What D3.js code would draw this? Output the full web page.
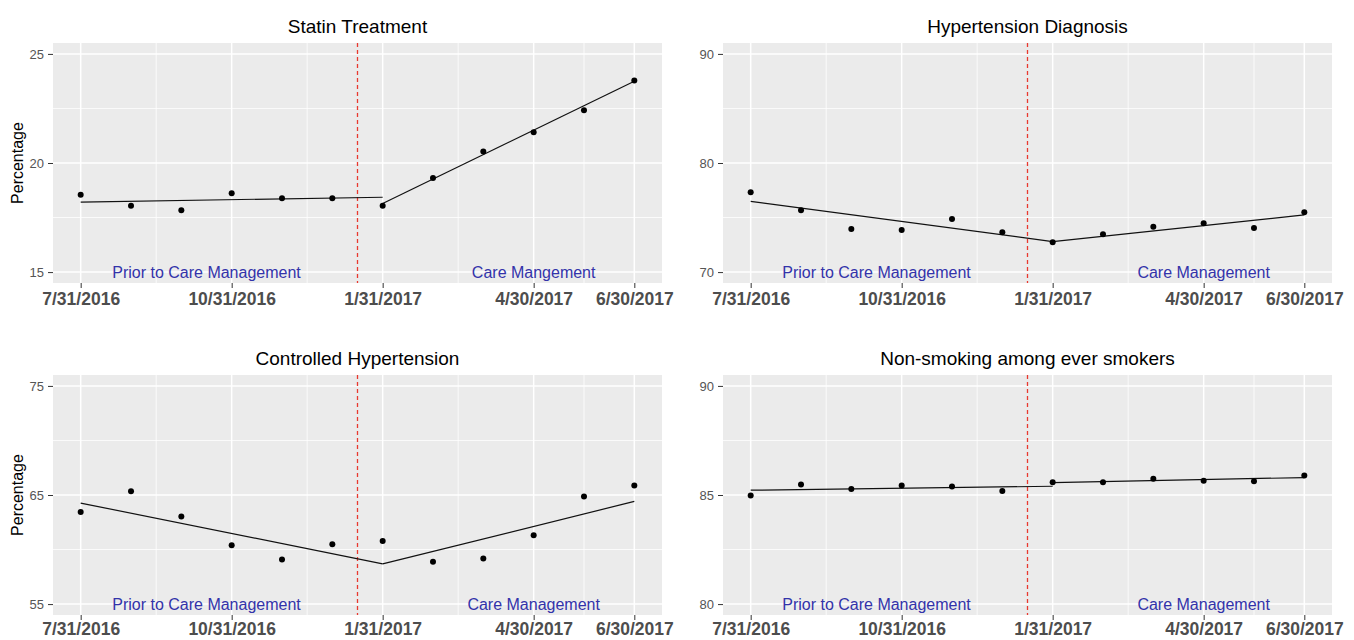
<!DOCTYPE html>
<html>
<head>
<meta charset="utf-8">
<script src="https://cdn.jsdelivr.net/npm/d3@7"></script>
<style>
  body { margin: 0; background: #fff; }
  svg { display: block; font-family: "Liberation Sans", Arial, sans-serif; }
</style>
</head>
<body>
<div id="viz"></div>
<script>
// month-end dates, one point per month
const monthEnds = ["7/31/2016", "8/31/2016", "9/30/2016", "10/31/2016", "11/30/2016", "12/31/2016",
  "1/31/2017", "2/28/2017", "3/31/2017", "4/30/2017", "5/31/2017", "6/30/2017"];
const tickIdx = [0, 3, 6, 9, 11];
const minorIdx = [1.5, 4.5, 7.5, 10];
const interventionIdx = 5.5;
const fitIdx = { pre: [0, 6], post: [6, 11] };

// Statin Treatment
const statin = [18.54, 18.04, 17.84, 18.61, 18.39, 18.39, 18.04, 19.31, 20.53, 21.41, 22.42, 23.78];
const statinPre = [18.21, 18.43];
const statinPost = [18.14, 23.75];
const statinTicks = [15, 20, 25];

// Hypertension Diagnosis
const hyperDx = [77.31, 75.66, 73.95, 73.86, 74.87, 73.65, 72.74, 73.47, 74.16, 74.47, 74.05, 75.48];
const hyperDxPre = [76.48, 72.80];
const hyperDxPost = [72.80, 75.24];
const hyperDxTicks = [70, 80, 90];

// Controlled Hypertension
const controlled = [63.44, 65.35, 63.04, 60.39, 59.08, 60.48, 60.79, 58.87, 59.17, 61.30, 64.86, 65.87];
const controlledPre = [64.26, 58.69];
const controlledPost = [58.69, 64.41];
const controlledTicks = [55, 65, 75];

// Non-smoking among ever smokers
const nonSmoking = [84.98, 85.48, 85.28, 85.43, 85.39, 85.18, 85.59, 85.59, 85.74, 85.65, 85.63, 85.89];
const nonSmokingPre = [85.22, 85.40];
const nonSmokingPost = [85.57, 85.80];
const nonSmokingTicks = [80, 85, 90];

const panels = [
  { title: "Statin Treatment", values: statin, pre: statinPre, post: statinPost, ticks: statinTicks,
    careLabel: "Care Mangement", ylab: true, col: 0, row: 0 },
  { title: "Hypertension Diagnosis", values: hyperDx, pre: hyperDxPre, post: hyperDxPost, ticks: hyperDxTicks,
    careLabel: "Care Management", ylab: false, col: 1, row: 0 },
  { title: "Controlled Hypertension", values: controlled, pre: controlledPre, post: controlledPost, ticks: controlledTicks,
    careLabel: "Care Management", ylab: true, col: 0, row: 1 },
  { title: "Non-smoking among ever smokers", values: nonSmoking, pre: nonSmokingPre, post: nonSmokingPost, ticks: nonSmokingTicks,
    careLabel: "Care Management", ylab: false, col: 1, row: 1 }
];

const width = 1354, height = 640;
const colX = [53, 723], panelW = 609;
const rowY = [43, 375], panelH = 240;
const labelGap = [10, 8]; // x tick label padding per row (bottom row sits tight on the edge)

const svg = d3.select("#viz").append("svg")
  .attr("width", width)
  .attr("height", height);
svg.append("rect").attr("width", width).attr("height", height).attr("fill", "#fff");

panels.forEach((p) => {
  const x0 = colX[p.col], y0 = rowY[p.row];
  const g = svg.append("g").attr("transform", `translate(${x0},${y0})`);

  const x = d3.scaleLinear().domain([-0.55, 11.55]).range([0, panelW]);
  const lo = d3.min(p.ticks), hi = d3.max(p.ticks), pad = (hi - lo) * 0.05;
  const y = d3.scaleLinear().domain([lo - pad, hi + pad]).range([panelH, 0]);
  const yMinor = d3.pairs(p.ticks).map((d) => (d[0] + d[1]) / 2);

  g.append("rect").attr("width", panelW).attr("height", panelH).attr("fill", "#ebebeb");

  // grid
  g.selectAll(".hminor").data(yMinor).join("line")
    .attr("x1", 0).attr("x2", panelW)
    .attr("y1", (d) => y(d)).attr("y2", (d) => y(d))
    .attr("stroke", "#fff").attr("stroke-width", 0.8);
  g.selectAll(".vminor").data(minorIdx).join("line")
    .attr("x1", (d) => x(d)).attr("x2", (d) => x(d))
    .attr("y1", 0).attr("y2", panelH)
    .attr("stroke", "#fff").attr("stroke-width", 0.8);
  g.selectAll(".hmajor").data(p.ticks).join("line")
    .attr("x1", 0).attr("x2", panelW)
    .attr("y1", (d) => y(d)).attr("y2", (d) => y(d))
    .attr("stroke", "#fff").attr("stroke-width", 1.5);
  g.selectAll(".vmajor").data(tickIdx).join("line")
    .attr("x1", (d) => x(d)).attr("x2", (d) => x(d))
    .attr("y1", 0).attr("y2", panelH)
    .attr("stroke", "#fff").attr("stroke-width", 1.5);

  // intervention line
  g.append("line")
    .attr("x1", x(interventionIdx)).attr("x2", x(interventionIdx))
    .attr("y1", 0).attr("y2", panelH)
    .attr("stroke", "#e8392f").attr("stroke-width", 1.3)
    .attr("stroke-dasharray", "4,3");

  // fitted segments
  const line = d3.line().x((d) => x(d[0])).y((d) => y(d[1]));
  [[fitIdx.pre, p.pre], [fitIdx.post, p.post]].forEach(([idx, vals]) => {
    g.append("path")
      .datum(idx.map((v, i) => [v, vals[i]]))
      .attr("d", line)
      .attr("fill", "none")
      .attr("stroke", "#111")
      .attr("stroke-width", 1.2);
  });

  // observed points
  g.selectAll(".pt").data(p.values).join("circle")
    .attr("cx", (d, i) => x(i))
    .attr("cy", (d) => y(d))
    .attr("r", 3)
    .attr("fill", "#000");

  // period labels
  [["Prior to Care Management", 2.5], [p.careLabel, 9]].forEach(([txt, at]) => {
    g.append("text")
      .attr("x", x(at)).attr("y", y(lo))
      .attr("dy", "0.35em")
      .attr("text-anchor", "middle")
      .attr("font-size", 16)
      .attr("fill", "#3333aa")
      .text(txt);
  });

  // axes
  const xAxis = g.append("g")
    .attr("transform", `translate(0,${panelH})`)
    .call(d3.axisBottom(x).tickValues(tickIdx).tickFormat((i) => monthEnds[i]).tickSize(5).tickPadding(6));
  xAxis.select(".domain").remove();
  xAxis.selectAll("line").attr("stroke", "#333");
  xAxis.selectAll("text")
    .attr("y", labelGap[p.row])
    .attr("font-family", "Liberation Sans, Arial, sans-serif")
    .attr("font-size", 17.5)
    .attr("font-weight", "bold")
    .attr("fill", "#4d4d4d");

  const yAxis = g.append("g")
    .call(d3.axisLeft(y).tickValues(p.ticks).tickSize(5).tickPadding(4));
  yAxis.select(".domain").remove();
  yAxis.selectAll("line").attr("stroke", "#333");
  yAxis.selectAll("text")
    .attr("font-family", "Liberation Sans, Arial, sans-serif")
    .attr("font-size", 13)
    .attr("fill", "#555");

  // title
  g.append("text")
    .attr("x", panelW / 2).attr("y", -10)
    .attr("text-anchor", "middle")
    .attr("font-size", 19)
    .attr("fill", "#000")
    .text(p.title);

  if (p.ylab) {
    g.append("text")
      .attr("transform", `translate(${17.7 - x0},${panelH / 2}) rotate(-90)`)
      .attr("text-anchor", "middle")
      .attr("dy", "0.35em")
      .attr("font-size", 16)
      .attr("fill", "#000")
      .text("Percentage");
  }
});
</script>
</body>
</html>
